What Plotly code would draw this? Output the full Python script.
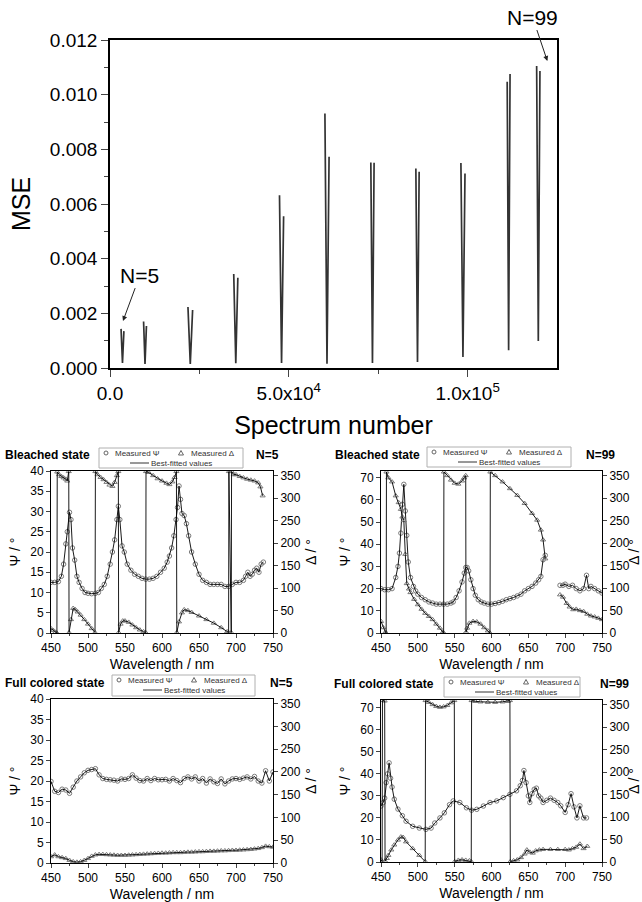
import plotly.graph_objects as go

W, H = 642, 902
FONT = "Liberation Sans, Arial, sans-serif"

# ---------------- Top panel: MSE vs spectrum number ----------------
mse_x_left = [3090, 9390, 21800, 34600, 47400, 60100, 72940, 85530, 98130, 111070, 119310]
mse_x_right = [3890, 10190, 23100, 35750, 48550, 61260, 73850, 86450, 99270, 111870, 120230]
mse_top_left = [0.00143, 0.0017, 0.00223, 0.00344, 0.00632, 0.00931, 0.00752, 0.0073, 0.0075, 0.01047, 0.01105]
mse_top_right = [0.00135, 0.00154, 0.00212, 0.0033, 0.00555, 0.00773, 0.00751, 0.00718, 0.00712, 0.01076, 0.01087]
mse_bottom = [0.00018, 0.00015, 0.00015, 0.00017, 0.00018, 0.00016, 0.00018, 0.00022, 0.0004, 0.00065, 0.00099]
top_tickvals = [0, 50000, 100000]
top_ticktext = ["0.0", "5.0x10<sup>4</sup>", "1.0x10<sup>5</sup>"]

# ---------------- Bleached state, N=5 ----------------
bl5_psi_wl = [450,455,460,464,467,470,472,475,477,479,482,485,488,492,496,500,505,510,514,518,
              522,526,530,533,536,539,541,543,546,549,553,558,563,568,573,578,583,588,593,598,
              603,607,610,613,616,619,621,623,625,627,630,633,636,640,645,650,655,660,665,670,
              675,680,685,690,695,700,705,710,713,716,719,722,725,728,731,734,737]
bl5_psi = [12.5,12.5,12.7,14,17,22,25,29.8,28,21,18,14,12.5,11,10,9.8,9.7,9.8,10,11,
           12,14,17,20,23,28,31.3,28,21.5,20,17,15.5,14.5,14,13.5,13.3,13.3,13.5,14,15,
           16,17.5,19,21,24,28,31,36.3,33,29.5,29,27,24,20,17,14.5,13,12.5,12,12,
           12,12,11.5,11.5,12,12.5,12.5,13,14,15,14,14.5,15.5,16,15,17,17.5]
bl5_delta_wl = [450,453,456,458,458.4,461,464,467,470,472,474,474.4,477,480,483,486,490,495,500,505,
                509.5,510,513,517,521,525,529,533,536,539,541,541.4,544,547,550,555,560,565,570,575,
                578,578.4,582,588,594,600,606,610,614,617,619.5,620,623,627,630,635,640,650,660,670,
                680,688,690,690.4,693.6,694,697,700,705,710,715,720,725,730,733,736]
bl5_delta = [10,6,2,0,358,352,348,345,342,338,359,1,30,55,52,47,40,30,20,10,
             1,359,352,346,341,335,329,326,335,350,359,1,20,27,27,24,18,12,7,3,
             1,359,357,350,343,338,333,330,336,346,359,1,25,45,52,50,46,38,30,22,
             12,3,1,359,1,359,352,352,348,345,342,340,338,334,325,305]

# ---------------- Bleached state, N=99 ----------------
bl99_psi_wl = [450,455,460,465,470,473,475,477,479,481,483,485,487,490,494,497,500,505,510,515,
               520,525,530,535,540,545,548,552,556,560,563,565,567,569,572,575,578,582,586,590,
               595,600,605,610,615,620,625,630,635,640,645,650,655,660,664,667,670,673,683,693,
               697,700,705,710,715,720,725,729,732,735,740,745,750]
bl99_psi = [20,19.5,19.5,20,25,30,36,45,58,67,55,44,32,25,21,19,17.5,16,15,14,
            13.5,13,13,13,13,13.5,14,16,19,23,27,29.5,29.5,28,24,20,17,15,14,13.5,
            13,13,13.3,13.7,14.3,15,15.5,16,16.7,17.5,19,20,21,22.5,24,25.5,33,35,None,21.5,
            21.5,22,21,21.5,20,19,20,26,20,21,20,19,18]
bl99_delta_wl = [450,453,456,457,457.4,460,465,470,474,477,479,481,483,485,488,490,495,500,505,510,
                 515,520,525,530,534,535,535.4,540,545,550,555,560,563,565,565.4,567,570,575,580,585,
                 590,595,598,598.4,605,615,625,635,645,655,662,667,670,673,683,693,697,702,706,711,
                 715,720,725,730,735,740,745,750]
bl99_delta = [26,12,2,0,358,345,336,305,290,275,258,250,175,110,98,90,75,63,53,44,
              37,30,20,11,2,0,358,350,340,333,331,338,345,350,2,11,22,26,25,20,
              12,5,0,358,350,336,321,306,288,266,251,229,207,165,None,85,80,66,58,52,
              53,50,48,42,38,36,33,30]

# ---------------- Full colored state, N=5 ----------------
fc5_wl = [450,455,460,465,470,475,480,485,490,495,500,505,510,515,520,525,530,535,540,545,
          550,555,560,565,570,575,580,585,590,595,600,605,610,615,620,625,630,635,640,645,
          650,655,660,665,670,675,680,685,690,695,700,705,710,715,720,725,730,735,740,745,750]
fc5_psi = [19.9,17.5,17.2,18,17.8,17,18.5,20,21,22,22.6,
           22.8,23,21.5,20.6,20.4,20.3,20.2,20,20.5,20.4,
           20.6,21.5,20.7,20.1,20,20.6,20.1,20.6,20.3,20.3,
           20.4,20,20.6,20.1,19.6,20.6,21,20.5,21,20,
           20.6,19.5,20.5,19.8,19.4,20.5,19.3,20,20.5,20.6,
           20.4,20.7,21,20.5,21.1,20,19.5,22.5,20,22.2]
fc5_delta = [14,18,14,12,10,6,3,2,3,6,10,
             15,18,19,19,18.5,18,17.5,17,17,17,
             17.5,18,18.5,19,19.5,20,20.5,21,21.5,22,
             22,22.5,23,23,23,23.5,24,24,24.5,25,
             25,25.5,26,26,26.5,27,27,27.5,28,28,
             28.5,29,29.5,30,31,32,34,37,36,35]

# ---------------- Full colored state, N=99 ----------------
fc99_psi_wl = [450,453,455,457,459,461,463,465,468,473,479,484,493,502,511,518,523,530,536,543,
               548,557,566,573,580,589,598,607,616,625,634,639,642,644,647,650,652,655,658,661,
               664,667,670,675,680,685,690,694,700,704,708,712,716,720,725,729]
fc99_psi = [25.4,27,29,36,40,45,38,34,28.5,24,21,18.5,16.2,15.4,14.8,15.4,17.7,20,22.3,26,
            27.7,27,24.6,23.5,23.9,25.4,27,27.7,29.2,30.7,32.3,34.6,37,41.5,36,30,27,31,33,33.5,
            30,29,27,28,29,28,27,25.5,22.5,26,31,25,20,25.5,20,20]
fc99_delta_wl = [450,451.5,452,455,455.5,458,460,464,468,473,477,480,484,493,502,510,510.5,515,520,525,
                 530,535,540,545,549.5,550,555,560,565,570,572.5,573,578,585,595,605,615,622,625,625.5,
                 630,635,640,645,648,652,656,660,665,670,680,690,700,705,710,715,720,725,730]
fc99_delta = [5,1,359,358,2,8,15,27,38,49,56,55,45,30,15,1,359,355,350,346,
              344,345,348,354,359,1,4,5,4,3,1,359,357,356,355,355,356,357,359,1,
              3,5,10,18,27,22,20,25,27,28,28,28,28,27,30,33,40,30,35]

fig = go.Figure()

# top panel spikes
xs, ys = [], []
for i in range(len(mse_x_left)):
    xm = (mse_x_left[i] + mse_x_right[i]) / 2
    xs += [mse_x_left[i], xm, mse_x_right[i], None]
    ys += [mse_top_left[i], mse_bottom[i], mse_top_right[i], None]
fig.add_trace(go.Scatter(x=xs, y=ys, mode="lines", line=dict(color="#333333", width=1.7),
                         xaxis="x", yaxis="y", showlegend=False, hoverinfo="skip"))

def px_dom_x(a, b):
    return [a / W, b / W]

def px_dom_y(top, bottom):
    return [1 - bottom / H, 1 - top / H]

def PX(x):
    return x / W

def PY(y):
    return 1 - y / H

layout = dict(
    width=W, height=H, margin=dict(l=0, r=0, t=0, b=0),
    paper_bgcolor="white", plot_bgcolor="white",
    font=dict(family=FONT, color="black"),
    showlegend=False,
)

layout["xaxis"] = dict(
    domain=px_dom_x(110, 557), anchor="y", range=[0, 125000],
    tickmode="array", tickvals=top_tickvals, ticktext=top_ticktext,
    ticks="outside", ticklen=7, tickwidth=1.4, showline=True, linewidth=1.6, linecolor="black",
    mirror=True, showgrid=False, zeroline=False, tickfont=dict(size=19),
    minor=dict(tickmode="array", tickvals=[25000, 75000], ticks="outside", ticklen=4, tickwidth=1.4),
    title=dict(text="Spectrum number", font=dict(size=25), standoff=14), automargin=False,
)
layout["yaxis"] = dict(
    domain=px_dom_y(40, 368), anchor="x", range=[0, 0.012], dtick=0.002, tickformat=".3f",
    ticks="outside", ticklen=7, tickwidth=1.4, showline=True, linewidth=1.6, linecolor="black",
    mirror=True, showgrid=False, zeroline=False, tickfont=dict(size=19),
    minor=dict(dtick=0.001, ticks="outside", ticklen=4, tickwidth=1.4),
    title=dict(text="MSE", font=dict(size=25), standoff=12), automargin=False,
)

panels = [
    dict(xd=(51, 273), yd=(471, 633), psi_rng=[0, 40], psi_dt=5,
         psi_wl=bl5_psi_wl, psi=bl5_psi, d_wl=bl5_delta_wl, d=bl5_delta,
         title="Bleached state", tpos=(48, 455), n="N=5", npos=(267, 455),
         box=(99, 448, 243, 468)),
    dict(xd=(381, 602), yd=(471, 633), psi_rng=[0, 73], psi_dt=10,
         psi_wl=bl99_psi_wl, psi=bl99_psi, d_wl=bl99_delta_wl, d=bl99_delta,
         title="Bleached state", tpos=(377, 455), n="N=99", npos=(600, 455),
         box=(427, 447, 571, 467)),
    dict(xd=(51, 273), yd=(699, 863), psi_rng=[0, 40], psi_dt=5,
         psi_wl=fc5_wl, psi=fc5_psi, d_wl=fc5_wl, d=fc5_delta,
         title="Full colored state", tpos=(55, 683), n="N=5", npos=(281, 683),
         box=(112, 675, 255, 696)),
    dict(xd=(381, 602), yd=(700, 862), psi_rng=[0, 73.5], psi_dt=10,
         psi_wl=fc99_psi_wl, psi=fc99_psi, d_wl=fc99_delta_wl, d=fc99_delta,
         title="Full colored state", tpos=(384, 684), n="N=99", npos=(614, 684),
         box=(444, 677, 580, 697)),
]

annotations = []
shapes = []

def ann(text, x, y, size, color="black", xanchor="center"):
    annotations.append(dict(text=text, x=PX(x), y=PY(y), xref="paper", yref="paper",
                            showarrow=False, font=dict(size=size, color=color, family=FONT),
                            xanchor=xanchor, yanchor="middle", borderpad=0))

MK = "#7a7a7a"
for i, p in enumerate(panels):
    xi = i + 2
    yl = 2 * i + 2
    yr = 2 * i + 3
    xn, yln, yrn = f"x{xi}", f"y{yl}", f"y{yr}"
    layout[f"xaxis{xi}"] = dict(
        domain=px_dom_x(*p["xd"]), anchor=yln, range=[450, 750], dtick=50,
        ticks="outside", ticklen=4, tickwidth=1, showline=True, linewidth=1, linecolor="black",
        mirror=True, showgrid=False, zeroline=False, tickfont=dict(size=12),
        minor=dict(dtick=25, ticks="outside", ticklen=2, tickwidth=1),
        title=dict(text="Wavelength / nm", font=dict(size=14), standoff=4), automargin=False,
    )
    layout[f"yaxis{yl}"] = dict(
        domain=px_dom_y(*p["yd"]), anchor=xn, range=p["psi_rng"], dtick=p["psi_dt"],
        ticks="outside", ticklen=4, tickwidth=1, showline=True, linewidth=1, linecolor="black",
        showgrid=False, zeroline=False, tickfont=dict(size=12),
        title=dict(text="Ψ / °", font=dict(size=14), standoff=6), automargin=False,
    )
    layout[f"yaxis{yr}"] = dict(
        overlaying=yln, side="right", anchor=xn, range=[0, 360], dtick=50,
        ticks="outside", ticklen=4, tickwidth=1, showline=True, linewidth=1, linecolor="black",
        showgrid=False, zeroline=False, tickfont=dict(size=12),
        title=dict(text="Δ / °", font=dict(size=14), standoff=6), automargin=False,
    )
    # measured markers
    fig.add_trace(go.Scatter(x=p["psi_wl"], y=p["psi"], mode="markers", xaxis=xn, yaxis=yln,
                             marker=dict(symbol="circle-open", size=4.5, color=MK, line=dict(width=1)),
                             hoverinfo="skip"))
    fig.add_trace(go.Scatter(x=p["d_wl"], y=p["d"], mode="markers", xaxis=xn, yaxis=yrn,
                             marker=dict(symbol="triangle-up-open", size=4.5, color=MK, line=dict(width=1)),
                             hoverinfo="skip"))
    # best-fitted lines
    fig.add_trace(go.Scatter(x=p["psi_wl"], y=p["psi"], mode="lines", xaxis=xn, yaxis=yln,
                             line=dict(color="black", width=0.9), connectgaps=False, hoverinfo="skip"))
    fig.add_trace(go.Scatter(x=p["d_wl"], y=p["d"], mode="lines", xaxis=xn, yaxis=yrn,
                             line=dict(color="black", width=0.9), connectgaps=False, hoverinfo="skip"))

    # titles
    ann("<b>%s</b>" % p["title"], p["tpos"][0], p["tpos"][1], 12)
    ann("<b>%s</b>" % p["n"], p["npos"][0], p["npos"][1], 12)
    # legend box
    bx0, by0, bx1, by1 = p["box"]
    shapes.append(dict(type="rect", xref="paper", yref="paper", x0=PX(bx0), x1=PX(bx1),
                       y0=PY(by1), y1=PY(by0), line=dict(color="#b0b0b0", width=1)))
    r1 = by0 + 5
    r2 = by0 + 15
    shapes.append(dict(type="circle", xref="paper", yref="paper",
                       x0=PX(bx0 + 5), x1=PX(bx0 + 9), y0=PY(r1 + 2), y1=PY(r1 - 2),
                       line=dict(color="#666", width=1)))
    ann("Measured Ψ", bx0 + 15, r1, 8, color="#333", xanchor="left")
    tx = bx0 + 82
    shapes.append(dict(type="path", xref="paper", yref="paper",
                       path="M %f,%f L %f,%f L %f,%f Z" % (PX(tx - 2.5), PY(r1 + 2), PX(tx + 2.5), PY(r1 + 2),
                                                          PX(tx), PY(r1 - 2.5)),
                       line=dict(color="#666", width=1)))
    ann("Measured Δ", bx0 + 91, r1, 8, color="#333", xanchor="left")
    shapes.append(dict(type="line", xref="paper", yref="paper", x0=PX(bx0 + 31), x1=PX(bx0 + 50),
                       y0=PY(r2), y1=PY(r2), line=dict(color="#333", width=1)))
    ann("Best-fitted values", bx0 + 51, r2, 8, color="#333", xanchor="left")

# arrows on top panel
annotations.append(dict(text="N=5", x=3630, y=0.00172, xref="x", yref="y",
                        ax=8380, ay=0.0034, axref="x", ayref="y", showarrow=True,
                        arrowhead=2, arrowsize=1, arrowwidth=1, arrowcolor="#222",
                        font=dict(size=21, family=FONT, color="black")))
annotations.append(dict(text="N=99", x=122300, y=0.01123, xref="x", yref="y",
                        ax=118156, ay=0.01284, axref="x", ayref="y", showarrow=True,
                        arrowhead=2, arrowsize=1, arrowwidth=1, arrowcolor="#222",
                        font=dict(size=21, family=FONT, color="black")))

layout["annotations"] = annotations
layout["shapes"] = shapes
fig.update_layout(**layout)
fig.write_html("out.html", config={"displayModeBar": False},
               post_script="document.body.style.margin='0px';document.body.style.overflow='hidden';")
